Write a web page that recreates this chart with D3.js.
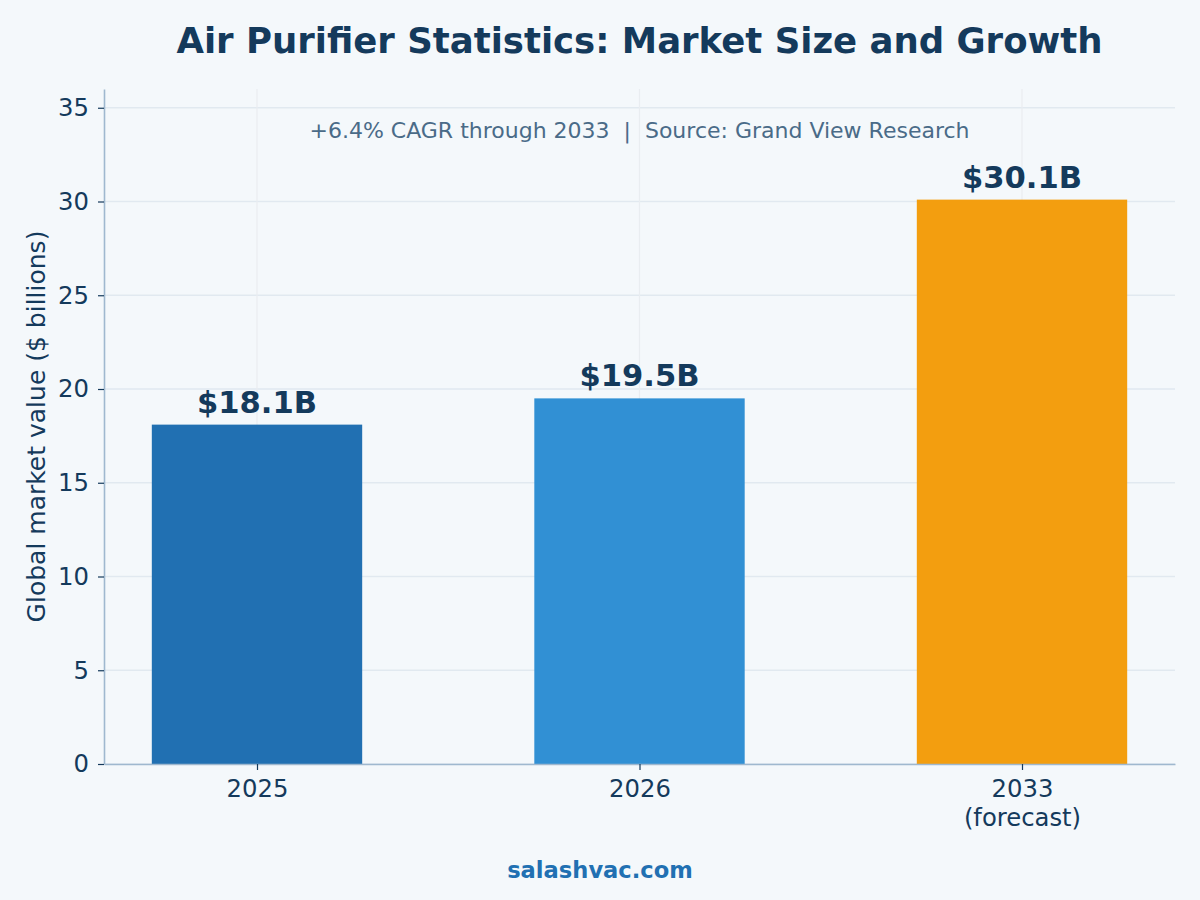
<!DOCTYPE html>
<html>
<head>
<meta charset="utf-8">
<script src="https://cdn.jsdelivr.net/npm/d3@7"></script>
<style>
    body { margin: 0; background: #f4f8fb; }
    svg { display: block; font-family: "DejaVu Sans", sans-serif; }
</style>
</head>
<body>
<div id="chart"></div>
<script>

// data
var categories = ["2025", "2026", "2033\n(forecast)"]
var values = [18.1, 19.5, 30.1]
var valueLabels = ["$18.1B", "$19.5B", "$30.1B"]
var barColors = ["#2170b2", "#3190d4", "#f39e0f"]
var yTicks = [0, 5, 10, 15, 20, 25, 30, 35]

var title = "Air Purifier Statistics: Market Size and Growth"
var subtitle = "+6.4% CAGR through 2033  |  Source: Grand View Research"
var yLabel = "Global market value ($ billions)"
var footer = "salashvac.com"

var W = 1200, H = 900
var margin = {top: 89, right: 25, bottom: 136, left: 104}
var width = W - margin.left - margin.right
var height = H - margin.top - margin.bottom

var navy = "#143a5c"
var spine = "#9fb8cf"

var svg = d3.select("#chart").append("svg")
    .attr("width", W)
    .attr("height", H)

svg.append("rect").attr("width", W).attr("height", H).attr("fill", "#f4f8fb")

var g = svg.append("g")
    .attr("transform", "translate(" + margin.left + "," + margin.top + ")")

// index scale, xlim -0.4 .. 2.4 like the original
var x = d3.scaleLinear().domain([-0.4, 2.4]).range([0, width])
var y = d3.scaleLinear().domain([0, 36]).range([height, 0])
var barW = x(0.55) - x(0)

// horizontal gridlines
g.append("g")
    .selectAll("line")
    .data(yTicks)
    .enter().append("line")
        .attr("x1", 0).attr("x2", width)
        .attr("y1", d => y(d)).attr("y2", d => y(d))
        .attr("stroke", "#e1e9f0")
        .attr("stroke-width", 1.5)

// faint vertical gridlines at the categories
g.append("g")
    .selectAll("line")
    .data(categories)
    .enter().append("line")
        .attr("x1", (d, i) => x(i)).attr("x2", (d, i) => x(i))
        .attr("y1", 0).attr("y2", height)
        .attr("stroke", "#e9edf1")
        .attr("stroke-width", 1.2)

// bars
g.append("g")
    .selectAll("rect")
    .data(values)
    .enter().append("rect")
        .attr("x", (d, i) => x(i) - barW / 2)
        .attr("y", d => y(d))
        .attr("width", barW)
        .attr("height", d => y(0) - y(d))
        .attr("fill", (d, i) => barColors[i])

// value labels
g.append("g")
    .selectAll("text")
    .data(values)
    .enter().append("text")
        .attr("x", (d, i) => x(i))
        .attr("y", d => y(d) - 12)
        .attr("text-anchor", "middle")
        .attr("font-size", "30.6px")
        .attr("font-weight", "bold")
        .attr("fill", navy)
        .text((d, i) => valueLabels[i])

// y axis
var yAxis = g.append("g")
    .call(d3.axisLeft(y).tickValues(yTicks).tickSize(6).tickSizeOuter(0).tickPadding(9))
yAxis.select(".domain").attr("stroke", spine).attr("stroke-width", 1.6)
yAxis.selectAll(".tick line").attr("stroke", navy).attr("stroke-width", 1.2)
yAxis.selectAll(".tick text")
    .attr("fill", navy)
    .attr("font-size", "24.3px")
    .attr("font-family", "DejaVu Sans, sans-serif")

// x axis, multi-line labels
var xAxis = g.append("g")
    .attr("transform", "translate(0," + height + ")")
    .call(d3.axisBottom(x).tickValues([0, 1, 2]).tickSize(6).tickSizeOuter(0).tickFormat(""))
xAxis.select(".domain").attr("stroke", spine).attr("stroke-width", 1.6)
xAxis.selectAll(".tick line").attr("stroke", navy).attr("stroke-width", 1.2)
xAxis.selectAll(".tick").each(function(d, i) {
    var lines = categories[i].split("\n")
    var t = d3.select(this).append("text")
        .attr("text-anchor", "middle")
        .attr("fill", navy)
        .attr("font-size", "24.3px")
        .attr("font-family", "DejaVu Sans, sans-serif")
    lines.forEach((ln, k) => {
        t.append("tspan").attr("x", 0).attr("y", 33 + k * 29).text(ln)
    })
})

// subtitle inside the plot area
g.append("text")
    .attr("x", width / 2)
    .attr("y", 49)
    .attr("text-anchor", "middle")
    .attr("font-size", "22px")
    .attr("fill", "#4a6b88")
    .style("white-space", "pre")
    .text(subtitle)

// y axis label
svg.append("text")
    .attr("transform", "translate(45," + (margin.top + height / 2) + ") rotate(-90)")
    .attr("text-anchor", "middle")
    .attr("font-size", "25px")
    .attr("fill", navy)
    .text(yLabel)

// title
svg.append("text")
    .attr("x", margin.left + width / 2)
    .attr("y", 53)
    .attr("text-anchor", "middle")
    .attr("font-size", "35.5px")
    .attr("font-weight", "bold")
    .attr("fill", navy)
    .text(title)

// footer
svg.append("text")
    .attr("x", W / 2)
    .attr("y", 878)
    .attr("text-anchor", "middle")
    .attr("font-size", "22.6px")
    .attr("font-weight", "bold")
    .attr("fill", "#2170b2")
    .text(footer)

</script>
</body>
</html>
